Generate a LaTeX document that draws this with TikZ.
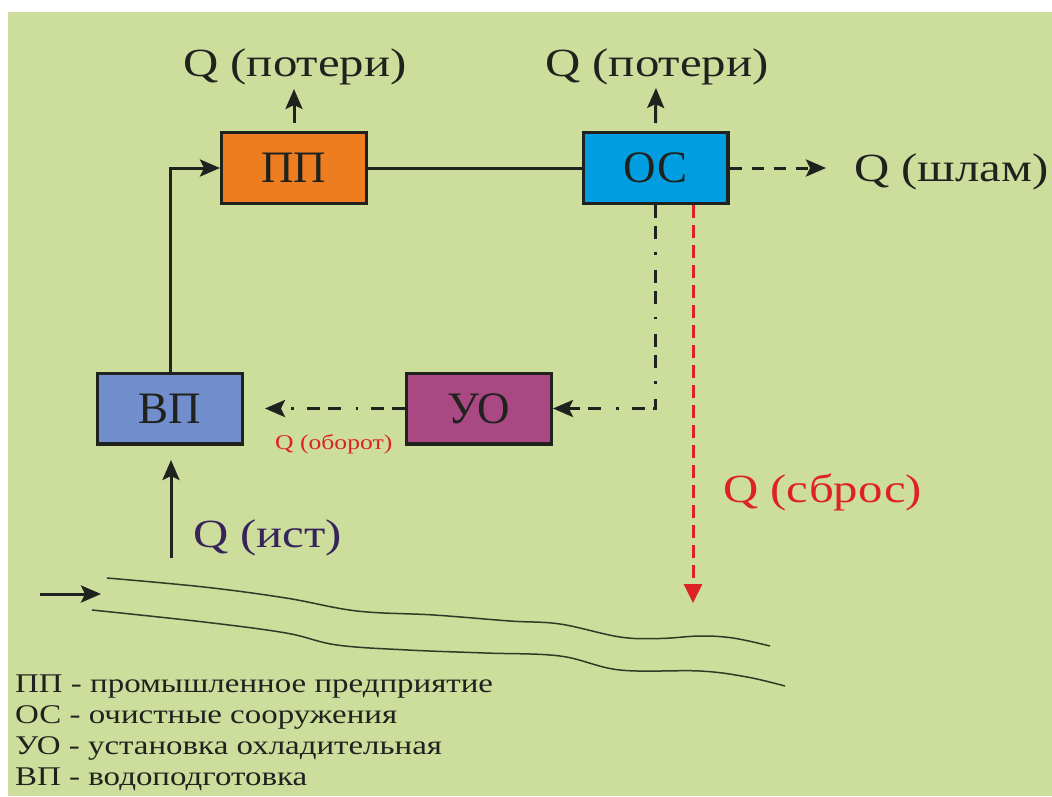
\documentclass[tikz,border=0pt]{standalone}
\usepackage{fontspec}
\setmainfont{Liberation Serif}
\newfontfamily\widefont{Liberation Serif}[FakeStretch=1.22]
\usetikzlibrary{arrows.meta}

\definecolor{bgGreen}{RGB}{204,221,156}
\definecolor{ppFill}{RGB}{238,125,31}
\definecolor{osFill}{RGB}{0,158,224}
\definecolor{vpFill}{RGB}{114,142,204}
\definecolor{uoFill}{RGB}{170,72,132}
\definecolor{ink}{RGB}{32,34,30}
\definecolor{flowRed}{RGB}{222,34,36}
\definecolor{srcInk}{RGB}{55,36,90}
\definecolor{riverInk}{RGB}{48,58,38}

\tikzset{
  unitbox/.style={draw=ink, line width=3.4pt, minimum width=144.6pt, minimum height=70.6pt,
    inner sep=0pt, text=ink, font=\fontsize{45}{50}\selectfont},
  biglabel/.style={text=ink, inner sep=0pt, font=\widefont\fontsize{40}{46}\selectfont},
  flow/.style={draw=ink, line width=3pt},
  tip/.style={-{Stealth[length=20pt,width=17pt,inset=4pt]}},
  dashflow/.style={flow, dash pattern=on 12pt off 10pt},
  dashdotflow/.style={flow, dash pattern=on 13pt off 8pt on 13pt off 13pt on 2.5pt off 15pt},
  dropflow/.style={draw=flowRed, line width=3pt, dash pattern=on 13pt off 7pt,
    -{Triangle[length=19pt,width=18pt]}},
  river/.style={draw=riverInk, line width=1.5pt},
  legendline/.style={text=ink, inner sep=0pt, anchor=base west,
    font=\widefont\fontsize{27}{31}\selectfont}
}

\begin{document}
\begin{tikzpicture}[x=1pt,y=-1pt]
  % canvas
  \fill[white] (0,0) rectangle (1052,796);
  \fill[bgGreen] (8,12) rectangle (1052,796);
  \useasboundingbox (0,0) rectangle (1052,796);

  % units
  \node[unitbox, fill=ppFill] (pp) at (294,168) {ПП};
  \node[unitbox, fill=osFill] (os) at (655.5,168) {ОС};
  \node[unitbox, fill=vpFill] (vp) at (170,408.5) {ВП};
  \node[unitbox, fill=uoFill] (uo) at (479,408.5) {УО};

  % labels
  \node[biglabel, anchor=base] (lossA) at (295,76) {Q (потери)};
  \node[biglabel, anchor=base] (lossB) at (657,76) {Q (потери)};
  \node[biglabel, anchor=base west] (slam) at (854,181) {Q (шлам)};
  \node[biglabel, anchor=base west, text=flowRed] (sbros) at (723,502) {Q (сброс)};
  \node[biglabel, anchor=base west, text=srcInk] (ist) at (193,547) {Q (ист)};
  \node[inner sep=0pt, anchor=base west, text=flowRed,
        font=\widefont\fontsize{21}{24}\selectfont] (oborot) at (275,449) {Q (оборот)};

  % free ends of the connectors
  \coordinate (lossAtip) at (294,89);
  \coordinate (lossBtip) at (656,88);
  \coordinate (slamtip) at (826,168);
  \coordinate (sbrostip) at (693,603);
  \coordinate (oborottip) at (265,408.5);
  \coordinate (istfoot) at (171,558);
  \coordinate (isttip) at (171,460);
  \coordinate (inflowfoot) at (40,594);
  \coordinate (inflowtip) at (101,594);

  % main flow
  \draw[flow, tip] (vp.north) |- (pp.west);
  \draw[flow] (pp.east) -- (os.west);
  \draw[flow, tip] ([yshift=8pt]pp.north) -- (lossAtip);
  \draw[flow, tip] ([yshift=8pt]os.north) -- (lossBtip);
  \draw[dashflow, tip] (os.east) -- (slamtip);

  % recirculation
  \draw[dashdotflow, tip] (os.south) |- (uo.east);
  \draw[dashdotflow, tip] (uo.west) -- (oborottip);

  % discharge
  \draw[dropflow] ([xshift=37.5pt]os.south) -- (sbrostip);

  % intake
  \draw[flow, tip] (istfoot) -- (isttip);
  \draw[flow, tip] (inflowfoot) -- (inflowtip);

  % river banks
  \draw[river] plot[smooth, tension=0.6] coordinates {
    (107,578) (204,587) (286,598) (357,611) (434,615) (510,621) (560,624)
    (620,637) (660,638.5) (700,636) (733,638) (770,646)};
  \draw[river] plot[smooth, tension=0.6] coordinates {
    (92,610) (204,622) (286,633) (337,645) (408,650) (485,653) (560,656)
    (620,670) (700,671) (747,677) (785,686)};

  % legend
  \node[legendline] (leg1) at (15,692) {ПП - промышленное предприятие};
  \node[legendline] (leg2) at (15,723) {ОС - очистные сооружения};
  \node[legendline] (leg3) at (15,754) {УО - установка охладительная};
  \node[legendline] (leg4) at (15,785) {ВП - водоподготовка};
\end{tikzpicture}
\end{document}
